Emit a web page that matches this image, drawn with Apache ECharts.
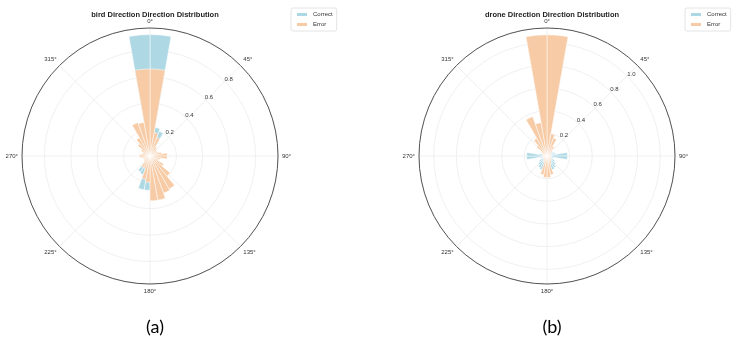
<!DOCTYPE html>
<html>
<head>
<meta charset="utf-8">
<script src="https://cdn.jsdelivr.net/npm/echarts@6/dist/echarts.min.js"></script>
<style>
  html, body { margin: 0; padding: 0; background: #fff; }
  #chart { width: 738px; height: 347px; }
</style>
</head>
<body>
<div id="chart"></div>
<script>
// 36 direction bins of 10°, centres 5°, 15°, ... 355° (clockwise from north)
const binLabels = Array.from({ length: 36 }, (_, i) => (5 + i * 10) + '°')

const birdCorrect = [0.92, 0.22, 0.20, 0.06, 0.05, 0.04, 0.04, 0.05, 0.08, 0.08, 0.04, 0.04,
  0.06, 0.08, 0.10, 0.12, 0.14, 0.16, 0.26, 0.26, 0.15, 0.14, 0.05, 0.04,
  0.04, 0.04, 0.06, 0.06, 0.04, 0.04, 0.05, 0.06, 0.08, 0.10, 0.12, 0.92]
const birdError = [0.66, 0.18, 0.15, 0.08, 0.07, 0.06, 0.07, 0.09, 0.13, 0.13, 0.08, 0.07,
  0.12, 0.20, 0.29, 0.30, 0.34, 0.34, 0.20, 0.18, 0.10, 0.10, 0.06, 0.05,
  0.05, 0.06, 0.08, 0.08, 0.06, 0.06, 0.08, 0.12, 0.16, 0.27, 0.26, 0.66]

const droneCorrect = [0.10, 0.05, 0.04, 0.04, 0.04, 0.05, 0.07, 0.08, 0.18, 0.18, 0.06, 0.05,
  0.08, 0.10, 0.12, 0.13, 0.08, 0.06, 0.06, 0.08, 0.13, 0.12, 0.10, 0.08,
  0.05, 0.06, 0.18, 0.18, 0.07, 0.05, 0.04, 0.05, 0.05, 0.05, 0.06, 0.10]
const droneError = [1.07, 0.20, 0.17, 0.10, 0.06, 0.04, 0.03, 0.03, 0.04, 0.04, 0.03, 0.03,
  0.04, 0.05, 0.06, 0.08, 0.17, 0.19, 0.19, 0.17, 0.06, 0.05, 0.04, 0.03,
  0.03, 0.03, 0.04, 0.04, 0.03, 0.04, 0.06, 0.12, 0.18, 0.37, 0.30, 1.07]

const angleTicks = ['0°', '45°', '90°', '135°', '180°', '225°', '270°', '315°']
const birdRadiusTicks = ['0.2', '0.4', '0.6', '0.8']
const droneRadiusTicks = ['0.2', '0.4', '0.6', '0.8', '1.0']
const birdRadiusMax = 0.97
const droneRadiusMax = 1.13

const COLOR_CORRECT = '#add8e4'
const COLOR_ERROR = '#f7cba6'
const RADIUS = 128

const panels = [
  { name: 'bird', cx: 150, cy: 156, max: birdRadiusMax, ticks: birdRadiusTicks, correct: birdCorrect, error: birdError, legendLeft: 291, tag: '(a)' },
  { name: 'drone', cx: 547, cy: 156, max: droneRadiusMax, ticks: droneRadiusTicks, correct: droneCorrect, error: droneError, legendLeft: 685, tag: '(b)' }
]

const option = {
  animation: false,
  backgroundColor: '#fff',
  title: [],
  legend: [],
  polar: [],
  angleAxis: [],
  radiusAxis: [],
  series: []
}

panels.forEach((p) => {
  const base = option.polar.length
  // 0: grid, 1: bars, 2: radius labels (nudged out a little, like matplotlib)
  option.polar.push({ center: [p.cx, p.cy], radius: RADIUS })
  option.polar.push({ center: [p.cx, p.cy], radius: RADIUS })
  option.polar.push({ center: [p.cx + 5, p.cy - 5], radius: RADIUS })

  option.angleAxis.push({
    polarIndex: base,
    type: 'value',
    min: 0,
    max: 360,
    interval: 45,
    startAngle: 90,
    clockwise: true,
    axisLine: { show: true, lineStyle: { color: '#555', width: 1 } },
    axisTick: { show: false },
    axisLabel: {
      margin: 4,
      fontSize: 6,
      color: '#333',
      fontFamily: 'Liberation Sans',
      formatter: (v) => (v >= 360 ? '' : angleTicks[Math.round(v / 45)])
    },
    splitLine: { show: true, lineStyle: { color: '#ececec', width: 0.8 } }
  })
  option.radiusAxis.push({
    polarIndex: base,
    type: 'value',
    min: 0,
    max: p.max,
    interval: 0.2,
    axisLine: { show: false },
    axisTick: { show: false },
    axisLabel: { show: false },
    splitLine: { show: true, lineStyle: { color: '#ececec', width: 0.8 } }
  })

  option.angleAxis.push({
    polarIndex: base + 1,
    type: 'category',
    data: binLabels,
    startAngle: 90,
    clockwise: true,
    show: false
  })
  option.radiusAxis.push({
    polarIndex: base + 1,
    type: 'value',
    min: 0,
    max: p.max,
    show: false
  })

  option.angleAxis.push({
    polarIndex: base + 2,
    type: 'value',
    min: 0,
    max: 360,
    startAngle: 42,
    show: false
  })
  option.radiusAxis.push({
    polarIndex: base + 2,
    type: 'value',
    min: 0,
    max: p.max,
    interval: 0.2,
    axisLine: { show: false },
    axisTick: { show: false },
    splitLine: { show: false },
    axisLabel: {
      fontSize: 6,
      color: '#333',
      fontFamily: 'Liberation Sans',
      margin: 1,
      formatter: (v) => {
        const s = v.toFixed(1)
        return p.ticks.includes(s) ? s : ''
      }
    }
  })

  const barStyle = { borderColor: '#fff', borderWidth: 0.5 }
  option.series.push({
    name: 'Correct',
    type: 'bar',
    coordinateSystem: 'polar',
    polarIndex: base + 1,
    data: p.correct,
    barGap: '-100%',
    barCategoryGap: '0%',
    itemStyle: Object.assign({ color: COLOR_CORRECT }, barStyle)
  })
  option.series.push({
    name: 'Error',
    type: 'bar',
    coordinateSystem: 'polar',
    polarIndex: base + 1,
    data: p.error,
    barGap: '-100%',
    barCategoryGap: '0%',
    itemStyle: Object.assign({ color: COLOR_ERROR }, barStyle)
  })

  option.title.push({
    text: p.name + ' Direction Direction Distribution',
    left: p.cx,
    top: 6,
    textAlign: 'center',
    textStyle: { fontSize: 7.5, fontWeight: 'bold', color: '#222', fontFamily: 'Liberation Sans' }
  })
  option.title.push({
    text: p.tag,
    left: p.cx,
    top: 313,
    textAlign: 'center',
    textStyle: { fontSize: 18, fontWeight: 'normal', color: '#000', fontFamily: 'Lato' }
  })

  option.legend.push({
    data: ['Correct', 'Error'],
    orient: 'vertical',
    left: p.legendLeft,
    top: 8,
    icon: 'rect',
    itemWidth: 12,
    itemHeight: 5,
    itemGap: 3,
    padding: [3, 4],
    borderColor: '#ddd',
    borderWidth: 0.8,
    borderRadius: 2,
    textStyle: { fontSize: 6, color: '#333', fontFamily: 'Liberation Sans' }
  })
})

const chart = echarts.init(document.getElementById('chart'), null, { renderer: 'canvas' })
chart.setOption(option)
</script>
</body>
</html>
